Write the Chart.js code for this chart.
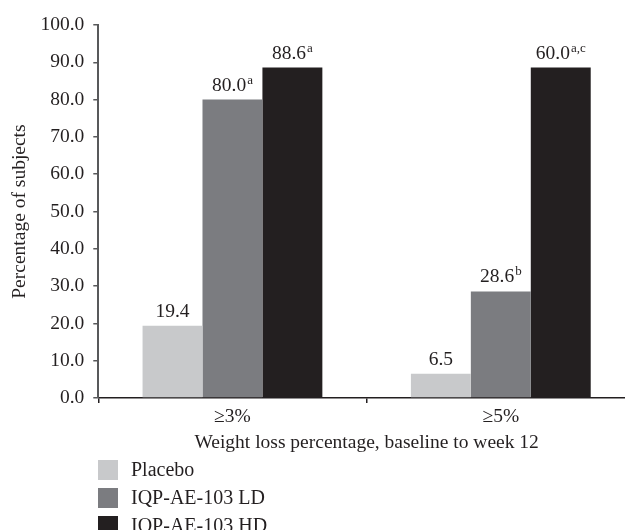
<!DOCTYPE html>
<html>
<head>
<meta charset="utf-8">
<script src="https://cdn.jsdelivr.net/npm/chart.js@4"></script>
<style>
    html, body { margin: 0; padding: 0; background: #fff; overflow: hidden; }
    #wrap { width: 640px; height: 530px; }
</style>
</head>
<body>
<div id="wrap"><canvas id="weightChart" width="640" height="530"></canvas></div>
<script>
const categories = ['≥3%', '≥5%'];
const seriesNames = ['Placebo', 'IQP-AE-103 LD', 'IQP-AE-103 HD'];

// bar heights as drawn
const placebo = [19.4, 6.5];
const lowDose = [80.0, 28.6];
const highDose = [88.6, 88.6];

// printed labels above the bars (the HD bar at ≥5% is printed as 60.0)
const placeboLabels = ['19.4', '6.5'];
const lowDoseLabels = ['80.0', '28.6'];
const highDoseLabels = ['88.6', '60.0'];
const placeboSup = ['', ''];
const lowDoseSup = ['a', 'b'];
const highDoseSup = ['a', 'a,c'];

const yTicks = [0, 10, 20, 30, 40, 50, 60, 70, 80, 90, 100];

const FONT = '"Liberation Serif", "DejaVu Serif", serif';
const TEXT = '#231f20';

const barLabels = {
    id: 'barLabels',
    afterDatasetsDraw(chart) {
        const ctx = chart.ctx;
        const texts = [placeboLabels, lowDoseLabels, highDoseLabels];
        const sups = [placeboSup, lowDoseSup, highDoseSup];
        ctx.save();
        ctx.fillStyle = TEXT;
        ctx.textBaseline = 'alphabetic';
        ctx.textAlign = 'left';
        chart.data.datasets.forEach((ds, di) => {
            chart.getDatasetMeta(di).data.forEach((bar, i) => {
                const main = texts[di][i];
                const sup = sups[di][i];
                ctx.font = '19.5px ' + FONT;
                const wMain = ctx.measureText(main).width;
                ctx.font = '13px ' + FONT;
                const wSup = sup ? ctx.measureText(sup).width + 1 : 0;
                const x0 = bar.x - (wMain + wSup) / 2;
                const base = bar.y - 9;
                ctx.font = '19.5px ' + FONT;
                ctx.fillText(main, x0, base);
                if (sup) {
                    ctx.font = '13px ' + FONT;
                    ctx.fillText(sup, x0 + wMain + 1, base - 7);
                }
            });
        });
        ctx.restore();
    }
};

const stackedLegend = {
    id: 'stackedLegend',
    afterDraw(chart) {
        const ctx = chart.ctx;
        ctx.save();
        ctx.font = '20px ' + FONT;
        ctx.textBaseline = 'middle';
        ctx.textAlign = 'left';
        chart.data.datasets.forEach((ds, i) => {
            const cy = 470 + i * 28;
            ctx.fillStyle = ds.backgroundColor;
            ctx.fillRect(98, cy - 10, 20, 20);
            ctx.fillStyle = TEXT;
            ctx.fillText(ds.label, 131, cy + 1);
        });
        ctx.restore();
    }
};

const ctx = document.getElementById('weightChart').getContext('2d');
new Chart(ctx, {
    type: 'bar',
    data: {
        labels: categories,
        datasets: [
            { label: seriesNames[0], data: placebo, backgroundColor: '#c8c9cb' },
            { label: seriesNames[1], data: lowDose, backgroundColor: '#7b7c80' },
            { label: seriesNames[2], data: highDose, backgroundColor: '#231f20' }
        ]
    },
    options: {
        responsive: false,
        maintainAspectRatio: false,
        animation: false,
        layout: {
            padding: { top: 25, right: 5, bottom: 77, left: 0 }
        },
        datasets: {
            bar: {
                barPercentage: 1.0,
                categoryPercentage: 0.67,
                borderWidth: 0
            }
        },
        scales: {
            x: {
                grid: {
                    display: true,
                    offset: true,
                    drawOnChartArea: false,
                    drawTicks: true,
                    tickLength: 5,
                    color: TEXT,
                    lineWidth: 1.5
                },
                border: { display: true, color: TEXT, width: 1.5 },
                ticks: {
                    color: TEXT,
                    padding: 2,
                    font: { family: FONT, size: 19.5 }
                },
                title: {
                    display: true,
                    text: 'Weight loss percentage, baseline to week 12',
                    color: TEXT,
                    padding: { top: 3, bottom: 0 },
                    font: { family: FONT, size: 19.5, lineHeight: 1 }
                }
            },
            y: {
                min: 0,
                max: 100,
                afterBuildTicks: scale => {
                    scale.ticks = yTicks.map(v => ({ value: v }));
                },
                grid: {
                    display: true,
                    drawOnChartArea: false,
                    drawTicks: true,
                    tickLength: 5,
                    color: '#58595b',
                    lineWidth: 1.5
                },
                border: { display: true, color: '#58595b', width: 2 },
                ticks: {
                    color: TEXT,
                    padding: 9,
                    font: { family: FONT, size: 19.5 },
                    callback: v => Number(v).toFixed(1)
                },
                title: {
                    display: true,
                    text: 'Percentage of subjects',
                    color: TEXT,
                    padding: { top: 8, bottom: 0 },
                    font: { family: FONT, size: 19.5 }
                }
            }
        },
        plugins: {
            legend: { display: false },
            tooltip: { enabled: false }
        }
    },
    plugins: [barLabels, stackedLegend]
});
</script>
</body>
</html>
